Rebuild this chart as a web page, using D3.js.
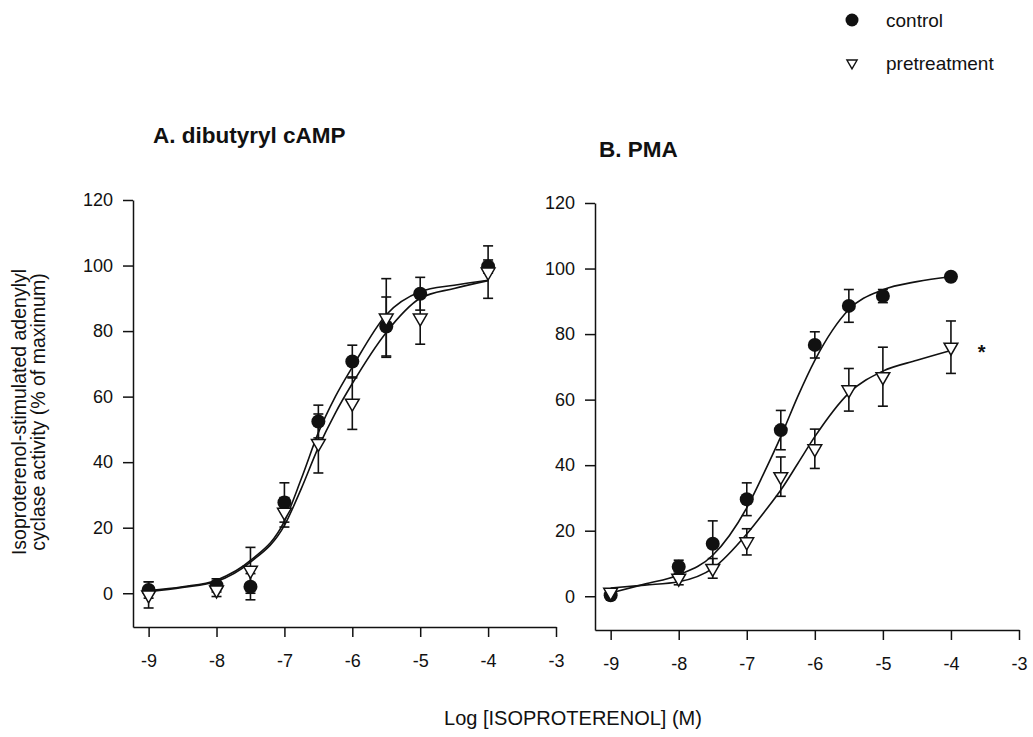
<!DOCTYPE html>
<html>
<head>
<meta charset="utf-8">
<script src="https://cdn.jsdelivr.net/npm/d3@7"></script>
<style>
  body { margin: 0; background: #fff; }
  text { font-family: "Liberation Sans", Arial, Helvetica, sans-serif; fill: #111; }
</style>
</head>
<body>
<div id="chart"></div>
<script>
// log [isoproterenol] (M) at which points were measured
const logConc = [-9, -8, -7.5, -7, -6.5, -6, -5.5, -5, -4];

// A. dibutyryl cAMP
const aControl = [1, 2.4, 2, 27.7, 52.4, 70.7, 81.4, 91.4, 99.7];
const aControlErr = [2.5, 2, 4, 6, 5, 5, 9, 5, 2];
const aPre = [-0.5, 1, 7, 24.7, 45.7, 58, 84, 84, 98];
const aPreErr = [4, 2, 7, 4.5, 9, 8, 12, 8, 8];

// B. PMA
const bControl = [0.3, 9, 16, 29.6, 50.7, 76.7, 88.6, 91.6, 97.5];
const bControlErr = [0.5, 2, 7, 5, 6, 4, 5, 2, 0];
const bPre = [1.2, 5.5, 8.5, 16.6, 36.5, 45, 63, 67, 76];
const bPreErr = [0.5, 2, 3, 4, 6, 6, 6.5, 9, 8];

// fitted curves
const fitX = [-9, -8.5, -8, -7.5, -7, -6.75, -6.5, -6.25, -6, -5.5, -5, -4.5, -4];
const aControlFit = [0.8, 2, 4, 10, 22, 35, 49, 60, 69, 85, 92, 94, 95.5];
const aPreFit = [0.5, 1.8, 3.6, 9.5, 20.7, 32, 44.5, 55, 64, 79.6, 90, 93, 95.4];
const bControlFit = [1, 3.7, 6.5, 12.5, 27, 37.5, 48.7, 61, 72, 87.5, 93.5, 96, 97.5];
const bPreFit = [2.5, 3.4, 4.4, 8.5, 19, 25.5, 32.4, 40.5, 48.7, 62, 68.7, 72, 75];

const xTicks = [-9, -8, -7, -6, -5, -4, -3];
const yTicks = [0, 20, 40, 60, 80, 100, 120];

const width = 1033;
const height = 737;
const ink = '#111';

const svg = d3.select('#chart').append('svg')
  .attr('width', width)
  .attr('height', height);

svg.append('rect').attr('width', width).attr('height', height).attr('fill', '#fff');

const triangleDown = (size) => d3.symbol().type(d3.symbolTriangle).size(size);
const plainNumber = (d) => String(d);

function drawPanel(opts) {
  const x = d3.scaleLinear().domain([-9.23, -3]).range([opts.left, opts.right]);
  const y = d3.scaleLinear().domain([-10.3, 120]).range([opts.bottom, opts.top]);

  const g = svg.append('g');

  // axes
  const xAxis = g.append('g')
    .attr('transform', `translate(0,${opts.bottom})`)
    .call(d3.axisBottom(x).tickValues(xTicks).tickFormat(plainNumber)
      .tickSize(10).tickSizeOuter(0).tickPadding(17));
  const yAxis = g.append('g')
    .attr('transform', `translate(${opts.left},0)`)
    .call(d3.axisLeft(y).tickValues(yTicks).tickFormat(plainNumber)
      .tickSize(10).tickSizeOuter(0).tickPadding(10));

  [xAxis, yAxis].forEach((a) => {
    a.selectAll('path, line').attr('stroke', ink).attr('stroke-width', 1.5);
    a.selectAll('text').attr('font-size', 18).attr('fill', ink)
      .style('font-family', '"Liberation Sans", Arial, sans-serif');
  });

  g.append('text')
    .attr('x', opts.titleX)
    .attr('y', opts.titleY)
    .attr('font-size', 22.5)
    .attr('font-weight', 'bold')
    .text(opts.title);

  // fitted curves
  const line = d3.line()
    .x((d, i) => x(fitX[i]))
    .y((d) => y(d))
    .curve(d3.curveMonotoneX);

  [opts.controlFit, opts.preFit].forEach((fit) => {
    g.append('path')
      .attr('d', line(fit))
      .attr('fill', 'none')
      .attr('stroke', ink)
      .attr('stroke-width', 1.6);
  });

  // error bars
  function errorBars(values, errs) {
    const bars = g.append('g').attr('stroke', ink).attr('stroke-width', 1.6);
    values.forEach((v, i) => {
      if (!errs[i]) return;
      const cx = x(logConc[i]);
      const y1 = y(v - errs[i]);
      const y2 = y(v + errs[i]);
      bars.append('line').attr('x1', cx).attr('x2', cx).attr('y1', y1).attr('y2', y2);
      bars.append('line').attr('x1', cx - 5).attr('x2', cx + 5).attr('y1', y1).attr('y2', y1);
      bars.append('line').attr('x1', cx - 5).attr('x2', cx + 5).attr('y1', y2).attr('y2', y2);
    });
  }
  errorBars(opts.control, opts.controlErr);
  errorBars(opts.pre, opts.preErr);

  // control: filled circles
  g.append('g').selectAll('circle')
    .data(opts.control)
    .join('circle')
    .attr('cx', (d, i) => x(logConc[i]))
    .attr('cy', (d) => y(d))
    .attr('r', 7)
    .attr('fill', ink);

  // pretreatment: open down triangles
  g.append('g').selectAll('path')
    .data(opts.pre)
    .join('path')
    .attr('d', triangleDown(82))
    .attr('transform', (d, i) => `translate(${x(logConc[i])},${y(d)}) rotate(180)`)
    .attr('fill', '#fff')
    .attr('stroke', ink)
    .attr('stroke-width', 1.5);

  return {x, y, g};
}

drawPanel({
  left: 133, right: 556, top: 200, bottom: 627,
  title: 'A. dibutyryl cAMP', titleX: 153, titleY: 143,
  control: aControl, controlErr: aControlErr,
  pre: aPre, preErr: aPreErr,
  controlFit: aControlFit, preFit: aPreFit
});

const panelB = drawPanel({
  left: 595, right: 1019, top: 203, bottom: 630,
  title: 'B. PMA', titleX: 599, titleY: 157,
  control: bControl, controlErr: bControlErr,
  pre: bPre, preErr: bPreErr,
  controlFit: bControlFit, preFit: bPreFit
});

// significance mark next to last pretreatment point
panelB.g.append('text')
  .attr('x', panelB.x(-3.55))
  .attr('y', panelB.y(bPre[bPre.length - 1]) + 12)
  .attr('text-anchor', 'middle')
  .attr('font-size', 20)
  .attr('font-weight', 'bold')
  .text('*');

// axis titles
svg.append('text')
  .attr('transform', 'translate(26,412) rotate(-90)')
  .attr('text-anchor', 'middle')
  .attr('font-size', 19.5)
  .text('Isoproterenol-stimulated adenylyl');
svg.append('text')
  .attr('transform', 'translate(45,412) rotate(-90)')
  .attr('text-anchor', 'middle')
  .attr('font-size', 19.5)
  .text('cyclase activity (% of maximum)');

svg.append('text')
  .attr('x', 573)
  .attr('y', 725)
  .attr('text-anchor', 'middle')
  .attr('font-size', 20)
  .text('Log [ISOPROTERENOL] (M)');

// legend
const legend = svg.append('g');
legend.append('circle').attr('cx', 852).attr('cy', 20).attr('r', 6.5).attr('fill', ink);
legend.append('path')
  .attr('d', triangleDown(45))
  .attr('transform', 'translate(852,63) rotate(180)')
  .attr('fill', '#fff')
  .attr('stroke', ink)
  .attr('stroke-width', 1.4);
legend.append('text').attr('x', 886).attr('y', 20).attr('dy', '0.35em').attr('font-size', 19).text('control');
legend.append('text').attr('x', 886).attr('y', 63).attr('dy', '0.35em').attr('font-size', 19).text('pretreatment');
</script>
</body>
</html>
